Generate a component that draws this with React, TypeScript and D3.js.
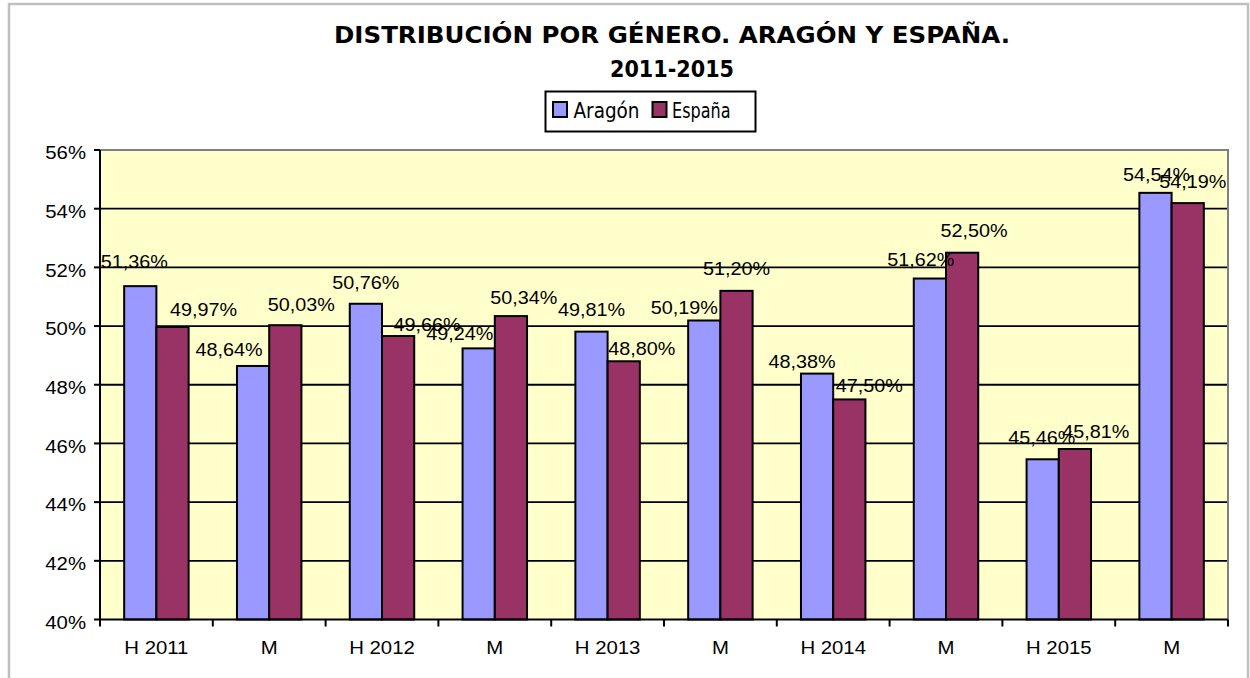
import React from "react";
import * as d3 from "d3";

// ---- Data ----
const categories = ["H 2011", "M", "H 2012", "M", "H 2013", "M", "H 2014", "M", "H 2015", "M"];
const seriesNames = ["Aragón", "España"];
const aragon = [51.36, 48.64, 50.76, 49.24, 49.81, 50.19, 48.38, 51.62, 45.46, 54.54];
const espana = [49.97, 50.03, 49.66, 50.34, 48.8, 51.2, 47.5, 52.5, 45.81, 54.19];
const yTicks = [40, 42, 44, 46, 48, 50, 52, 54, 56];
const titleLines = ["DISTRIBUCIÓN POR GÉNERO. ARAGÓN Y ESPAÑA.", "2011-2015"];

// label nudges (dx from bar centre, dy from bar top) as placed in the original
const aragonLabelNudge: [number, number][] = [
  [-6, -18], [-24, -10], [0, -15], [-19, -8], [0, -16],
  [-20, -6], [-15, -6], [-9, -13], [-1, -15], [1, -12],
];
const espanaLabelNudge: [number, number][] = [
  [31, -11], [16, -14], [29, -5], [13, -12], [18, -6],
  [0, -16], [20, -7], [12, -16], [21, -11], [5, -15],
];

const COLORS = ["#9999FF", "#993366"];
const W = 1250;
const H = 678;
const plot = { left: 100, right: 1228, top: 150, bottom: 619.5 };
const ARIAL = "'Liberation Sans', Arial, sans-serif";
const TAHOMA = "'DejaVu Sans Condensed', 'DejaVu Sans', Verdana, sans-serif";

export default function App() {
  const idx = d3.range(categories.length);
  const x = d3.scaleBand<number>().domain(idx).range([plot.left, plot.right]).padding(0);
  const bw = x.bandwidth();
  const barW = bw / 3.5;
  const y = d3.scaleLinear().domain([40, 56]).range([plot.bottom, plot.top]);
  const fmt = (v: number) => d3.format(".2f")(v).replace(".", ",") + "%";
  const series = [aragon, espana];
  const nudges = [aragonLabelNudge, espanaLabelNudge];

  const barX = (i: number, s: number) => (x(i) as number) + barW * 0.75 + s * barW;

  return (
    <svg
      width={W}
      height={H}
      style={{ position: "absolute", left: 0, top: 0, background: "#fff" }}
    >
      {/* outer frame */}
      <rect x={9} y={4} width={1239} height={720} fill="#fff" stroke="#c0c0c0" strokeWidth={2.5} />

      {/* title */}
      {titleLines.map((t, k) => (
        <text
          key={k}
          x={672}
          y={k === 0 ? 43 : 77}
          textAnchor="middle"
          fontFamily={TAHOMA}
          fontWeight="bold"
          fontSize={23.5}
          textLength={k === 0 ? 676 : 124}
          lengthAdjust="spacingAndGlyphs"
          fill="#000"
        >
          {t}
        </text>
      ))}

      {/* legend */}
      <rect x={545.5} y={91.5} width={210} height={40} fill="#fff" stroke="#000" strokeWidth={2} />
      {seriesNames.map((n, s) => {
        const sx = s === 0 ? 553 : 652.5;
        const tx = s === 0 ? 573.5 : 672;
        return (
          <g key={n}>
            <rect x={sx} y={102} width={14} height={15} fill={COLORS[s]} stroke="#000" strokeWidth={2} />
            <text
              x={tx}
              y={117.5}
              fontFamily={TAHOMA}
              fontSize={21}
              textLength={s === 0 ? 66 : 58.5}
              lengthAdjust="spacingAndGlyphs"
              fill="#000"
            >
              {n}
            </text>
          </g>
        );
      })}

      {/* plot background */}
      <rect x={plot.left} y={plot.top} width={plot.right - plot.left} height={plot.bottom - plot.top} fill="#FFFFCC" />

      {/* gridlines */}
      {yTicks.filter((t) => t > 40 && t < 56).map((t) => (
        <line key={t} x1={plot.left} x2={plot.right} y1={y(t)} y2={y(t)} stroke="#000" strokeWidth={1.8} />
      ))}

      {/* plot border top & right */}
      <path
        d={`M${plot.left},${plot.top}H${plot.right}V${plot.bottom}`}
        fill="none"
        stroke="#808080"
        strokeWidth={2}
      />

      {/* bars */}
      {series.map((vals, s) =>
        vals.map((v, i) => (
          <rect
            key={`${s}-${i}`}
            x={barX(i, s)}
            y={y(v)}
            width={barW}
            height={y(40) - y(v)}
            fill={COLORS[s]}
            stroke="#000"
            strokeWidth={2}
          />
        ))
      )}

      {/* axes */}
      <line x1={plot.left} x2={plot.left} y1={plot.top} y2={plot.bottom} stroke="#000" strokeWidth={2} />
      <line x1={plot.left - 1} x2={plot.right} y1={plot.bottom} y2={plot.bottom} stroke="#000" strokeWidth={2} />
      {yTicks.map((t) => (
        <g key={t}>
          <line x1={plot.left - 6} x2={plot.left} y1={y(t)} y2={y(t)} stroke="#000" strokeWidth={2} />
          <text
            transform={`translate(${plot.left - 14},${y(t) + 9.3}) scale(1.1,1)`}
            textAnchor="end"
            fontFamily={ARIAL}
            fontSize={18.5}
            fill="#000"
          >
            {`${t}%`}
          </text>
        </g>
      ))}
      {[...idx, categories.length].map((i) => {
        const xx = i < categories.length ? (x(i) as number) : plot.right;
        return <line key={i} x1={xx} x2={xx} y1={plot.bottom} y2={plot.bottom + 7} stroke="#000" strokeWidth={2} />;
      })}
      {categories.map((c, i) => (
        <text
          key={i}
          transform={`translate(${(x(i) as number) + bw / 2},654) scale(1.1,1)`}
          textAnchor="middle"
          fontFamily={ARIAL}
          fontSize={18.5}
          fill="#000"
        >
          {c}
        </text>
      ))}

      {/* data labels */}
      {series.map((vals, s) =>
        vals.map((v, i) => {
          const cx = barX(i, s) + barW / 2 + nudges[s][i][0];
          const cy = y(v) + nudges[s][i][1];
          return (
            <text
              key={`l${s}-${i}`}
              transform={`translate(${cx},${cy}) scale(1.1,1)`}
              textAnchor="middle"
              fontFamily={ARIAL}
              fontSize={18}
              fill="#000"
            >
              {fmt(v)}
            </text>
          );
        })
      )}
    </svg>
  );
}
